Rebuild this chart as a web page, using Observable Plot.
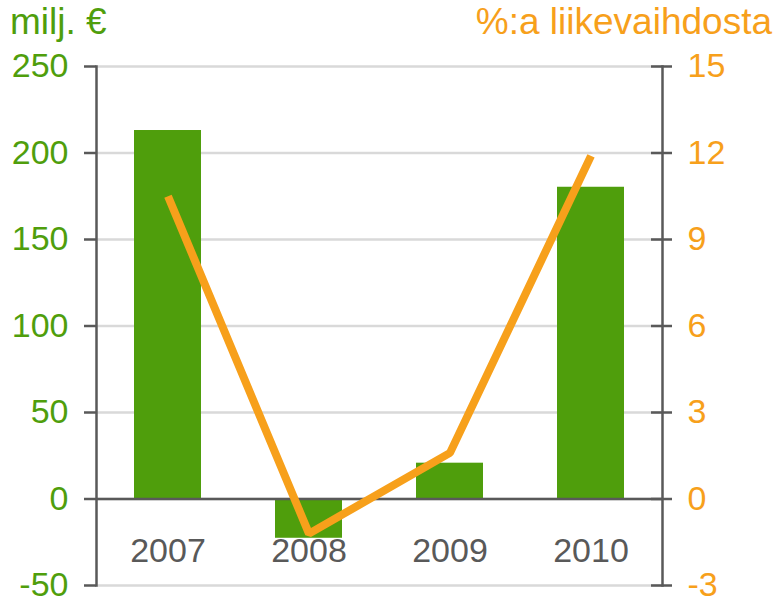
<!DOCTYPE html>
<html>
<head>
<meta charset="utf-8">
<script src="https://cdn.jsdelivr.net/npm/d3@7"></script>
<script src="https://cdn.jsdelivr.net/npm/@observablehq/plot@0.6"></script>
<style>
  body { margin: 0; background: #fff; font-family: "Liberation Sans", Arial, sans-serif; }
  #wrap { position: relative; width: 776px; height: 601px; }
  .ttl { position: absolute; top: 0px; font-size: 37px; line-height: 44px; white-space: nowrap; }
  #tl { left: 10px; color: #4f9e0c; }
  #tr { right: 4px; color: #f7a01b; }
</style>
</head>
<body>
<div id="wrap">
  <div id="chart"></div>
  <div class="ttl" id="tl">milj. €</div>
  <div class="ttl" id="tr">%:a liikevaihdosta</div>
</div>
<script>
const years = ["2007", "2008", "2009", "2010"];
const profit = [213, -22.7, 20.7, 180.2];        // milj. €
const margin = [10.5, -1.2, 1.6, 11.9];          // %:a liikevaihdosta
const leftTicks = [-50, 0, 50, 100, 150, 200, 250];
const rightTicks = [-3, 0, 3, 6, 9, 12, 15];

const green = "#4f9e0c";
const orange = "#f7a01b";
const axisGray = "#595959";
const gridGray = "#d9d9d9";
const ratio = 50 / 3;

const bars = years.map((y, i) => ({year: y, value: profit[i]}));
const line = years.map((y, i) => ({year: y, pct: margin[i]}));

const chart = Plot.plot({
  width: 776,
  height: 601,
  marginTop: 66,
  marginBottom: 16,
  marginLeft: 96,
  marginRight: 114,
  style: {fontFamily: "Liberation Sans, Arial, sans-serif", background: "transparent"},
  x: {domain: years, paddingInner: 0.524, paddingOuter: 0.262, axis: null},
  y: {domain: [-50, 250], axis: null},
  marks: [
    Plot.gridY(leftTicks, {stroke: gridGray, strokeOpacity: 1, strokeWidth: 2.5}),
    Plot.barY(bars, {x: "year", y: "value", fill: green}),
    Plot.ruleY([0], {stroke: axisGray, strokeWidth: 2.5}),
    Plot.axisX({anchor: "bottom", tickSize: 0, tickPadding: 0, dy: -48, fontSize: 34, fill: axisGray, label: null}),
    Plot.axisY(leftTicks, {anchor: "left", tickSize: 12, tickPadding: 16, tickFormat: d => String(d), stroke: axisGray, strokeWidth: 2.5, fontSize: 34, fill: green, label: null}),
    Plot.axisY(rightTicks.map(t => t * ratio), {anchor: "right", tickSize: 9, tickPadding: 16, tickFormat: d => String(Math.round(d / ratio)), stroke: axisGray, strokeWidth: 2.5, fontSize: 34, fill: orange, label: null}),
    Plot.axisY(rightTicks.map(t => t * ratio), {anchor: "right", tickSize: -12, tickFormat: () => "", stroke: axisGray, strokeWidth: 2.5, label: null}),
    Plot.frame({anchor: "left", stroke: axisGray, strokeWidth: 2.5}),
    Plot.frame({anchor: "right", stroke: axisGray, strokeWidth: 2.5}),
    Plot.line(line, {x: "year", y: d => d.pct * ratio, stroke: orange, strokeWidth: 8, strokeLinejoin: "miter", strokeLinecap: "butt"})
  ]
});
document.getElementById("chart").appendChild(chart);
</script>
</body>
</html>
